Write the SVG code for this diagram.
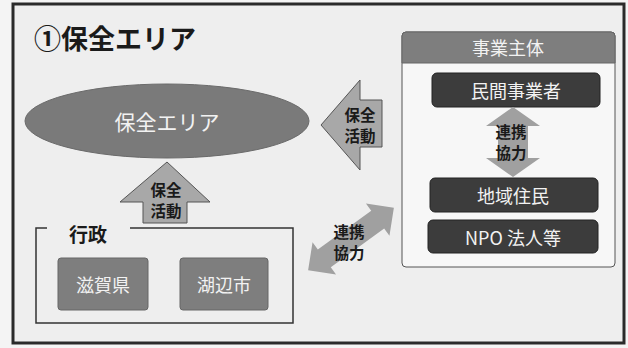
<svg xmlns="http://www.w3.org/2000/svg" width="628" height="348" viewBox="0 0 628 348">
<style>
text{font-family:"Noto Sans CJK JP","Noto Sans",sans-serif;text-anchor:middle;dominant-baseline:central}
.wt{fill:#f2f2f2}
.arr{fill:#a8a8a8;stroke:#555;stroke-width:1}
.lbl{font-size:15.5px;font-weight:bold;fill:#1a1a1a}
.dark{fill:#3c3c3c;stroke:#222;stroke-width:1}
.mid{fill:#7e7e7e;stroke:#666;stroke-width:1}
.bx{font-size:18px}
</style>
<rect x="0" y="0" width="628" height="348" fill="#f4f4f4"/>
<rect x="13" y="4" width="611" height="339" fill="#eeeeee" stroke="#2a2a2a" stroke-width="3"/>
<text x="115" y="37" style="font-size:27px;font-weight:bold;fill:#1a1a1a">①保全エリア</text>
<g id="area">
<ellipse cx="167" cy="121" rx="142" ry="37" fill="#7a7a7a" stroke="#6a6a6a"/>
<text x="167" y="121" class="wt" style="font-size:21px">保全エリア</text>
</g>
<g id="gyosei">
<path d="M47,228 H36 V323 H293 V228 H130" fill="none" stroke="#333" stroke-width="1.5"/>
<text x="88" y="233" style="font-size:19px;font-weight:bold;fill:#1a1a1a">行政</text>
</g>
<g id="shiga">
<rect x="58" y="258" width="90" height="52" rx="3" class="mid"/>
<text x="103" y="284" class="wt bx">滋賀県</text>
</g>
<g id="kohen">
<rect x="180" y="258" width="88" height="52" rx="3" class="mid"/>
<text x="224" y="284" class="wt bx">湖辺市</text>
</g>
<g id="jigyo">
<rect x="402" y="32" width="213" height="235" rx="4" fill="#f7f7f7" stroke="#555" stroke-width="1"/>
<path d="M402,63 V36 a4,4 0 0 1 4,-4 H611 a4,4 0 0 1 4,4 V63 Z" fill="#7e7e7e" stroke="#666"/>
<text x="508" y="47" class="wt bx">事業主体</text>
</g>
<g id="minkan">
<rect x="432" y="73" width="168" height="34" rx="5" class="dark"/>
<text x="516" y="90" class="wt bx">民間事業者</text>
</g>
<g id="chiiki">
<rect x="430" y="178" width="168" height="34" rx="5" class="dark"/>
<text x="513" y="195" class="wt bx">地域住民</text>
</g>
<g id="npo">
<rect x="428" y="220" width="170" height="33" rx="5" class="dark"/>
<text x="513" y="237" class="wt bx">NPO 法人等</text>
</g>
<g id="connectors">
<path d="M167,162 L210,202 H187 V223 H143 V202 H120 Z" class="arr"/>
<text x="166" y="189" class="lbl">保全</text>
<text x="166" y="210" class="lbl">活動</text>
<path d="M321,125 L360,80 V100 H382 V147 H360 V170 Z" class="arr"/>
<text x="360" y="114" class="lbl">保全</text>
<text x="360" y="135" class="lbl">活動</text>
<path d="M513,107 L540,126 H528 V158 H540 L513,177 L486,158 H498 V126 H486 Z" fill="#a0a0a0"/>
<text x="511" y="131" class="lbl">連携</text>
<text x="511" y="152" class="lbl">協力</text>
<g transform="translate(351,239) rotate(-36)">
<path d="M-53,0 L-33,-20 V-11 H33 V-20 L53,0 L33,20 V11 H-33 V20 Z" fill="#a0a0a0"/>
</g>
<text x="349" y="231" class="lbl">連携</text>
<text x="349" y="252" class="lbl">協力</text>
</g>
</svg>
